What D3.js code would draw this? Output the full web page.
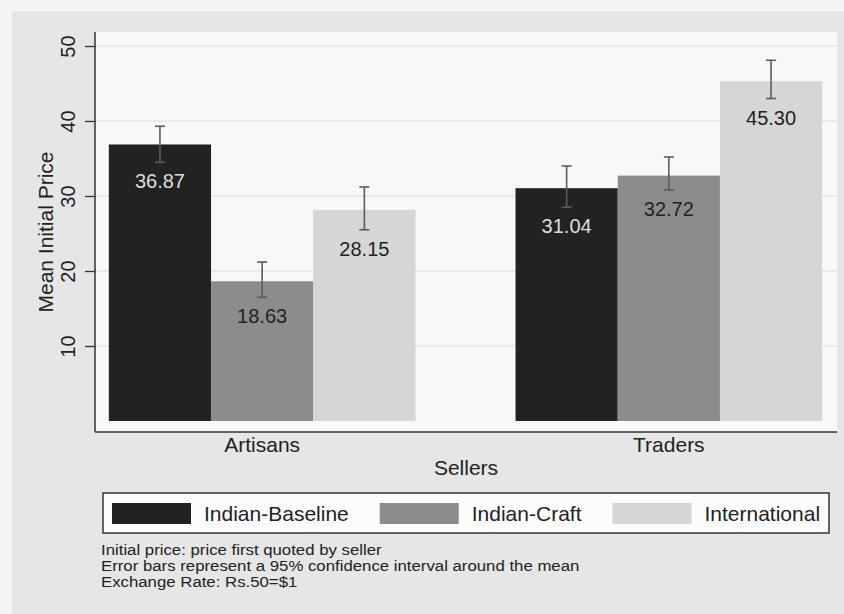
<!DOCTYPE html>
<html>
<head>
<meta charset="utf-8">
<script src="https://cdn.jsdelivr.net/npm/d3@7"></script>
<style>
  body { margin: 0; background: #f5f5f5; }
  svg { display: block; }
  text { font-family: "Liberation Sans", Arial, sans-serif; }
</style>
</head>
<body>
<svg id="chart" width="844" height="614"></svg>
<script>
// Seller groups and price series
const categories = ["Artisans", "Traders"];
const seriesNames = ["Indian-Baseline", "Indian-Craft", "International"];
const seriesColors = ["#222222", "#8c8c8c", "#d6d6d6"];

// Mean initial price per seller group, one array per series
const baselineMeans = [36.87, 31.04];
const craftMeans = [18.63, 32.72];
const internationalMeans = [28.15, 45.30];

// 95% confidence interval bounds [low, high] per seller group
const baselineCI = [[34.5, 39.3], [28.5, 34.0]];
const craftCI = [[16.5, 21.2], [30.8, 35.2]];
const internationalCI = [[25.5, 31.2], [43.0, 48.1]];

const yTicks = [10, 20, 30, 40, 50];
const yTitle = "Mean Initial Price";
const xTitle = "Sellers";
const notes = [
  "Initial price: price first quoted by seller",
  "Error bars represent a 95% confidence interval around the mean",
  "Exchange Rate: Rs.50=$1"
];

const seriesMeans = [baselineMeans, craftMeans, internationalMeans];
const seriesCI = [baselineCI, craftCI, internationalCI];

const rows = [];
categories.forEach((cat, i) => {
  seriesNames.forEach((s, j) => {
    rows.push({ cat, series: s, j, value: seriesMeans[j][i], lo: seriesCI[j][i][0], hi: seriesCI[j][i][1] });
  });
});

const svg = d3.select("#chart");
const plot = { left: 95, right: 837, top: 32, bottom: 432 };

// graph region and plot region backgrounds
svg.append("rect").attr("x", 12).attr("y", 11).attr("width", 832).attr("height", 603).attr("fill", "#e6e6e6");
svg.append("rect").attr("x", plot.left).attr("y", plot.top)
  .attr("width", plot.right - plot.left).attr("height", plot.bottom - plot.top).attr("fill", "#f8f8f8");

const x0 = d3.scaleBand().domain(categories).range([plot.left, 836]).paddingInner(0.246).paddingOuter(0.034);
const x1 = d3.scaleBand().domain(seriesNames).range([0, x0.bandwidth()]);
const y = d3.scaleLinear().domain([0, 50]).range([421, 46]);
const color = d3.scaleOrdinal().domain(seriesNames).range(seriesColors);

// horizontal grid lines
svg.append("g").selectAll("line").data(yTicks).join("line")
  .attr("x1", plot.left).attr("x2", plot.right)
  .attr("y1", d => y(d)).attr("y2", d => y(d))
  .attr("stroke", "#dadada").attr("stroke-width", 1);

// y axis with rotated tick labels
const yAxis = svg.append("g").attr("transform", `translate(${plot.left},0)`)
  .call(d3.axisLeft(y).tickValues(yTicks).tickSize(10).tickFormat(d3.format("d")));
yAxis.select(".domain").remove();
yAxis.selectAll(".tick line").attr("stroke", "#333").attr("stroke-width", 1.3);
yAxis.selectAll(".tick text")
  .attr("x", null).attr("dy", null)
  .attr("transform", "translate(-20,0) rotate(-90)")
  .attr("text-anchor", "middle")
  .attr("fill", "#222")
  .style("font-size", "20px");
svg.append("line").attr("x1", plot.left).attr("x2", plot.left)
  .attr("y1", plot.top).attr("y2", plot.bottom)
  .attr("stroke", "#333").attr("stroke-width", 1.5);

// x axis line
svg.append("line").attr("x1", plot.left).attr("x2", plot.right)
  .attr("y1", plot.bottom).attr("y2", plot.bottom)
  .attr("stroke", "#333").attr("stroke-width", 1.5);

// bars
svg.append("g").selectAll("rect").data(rows).join("rect")
  .attr("x", d => x0(d.cat) + x1(d.series))
  .attr("width", x1.bandwidth())
  .attr("y", d => y(d.value))
  .attr("height", d => y(0) - y(d.value))
  .attr("fill", d => color(d.series));

// error bars
const eb = svg.append("g").attr("stroke", "#5c5c5c").attr("stroke-width", 1.6);
rows.forEach(d => {
  const cx = x0(d.cat) + x1(d.series) + x1.bandwidth() / 2;
  eb.append("line").attr("x1", cx).attr("x2", cx).attr("y1", y(d.hi)).attr("y2", y(d.lo));
  eb.append("line").attr("x1", cx - 5).attr("x2", cx + 5).attr("y1", y(d.hi)).attr("y2", y(d.hi));
  eb.append("line").attr("x1", cx - 5).attr("x2", cx + 5).attr("y1", y(d.lo)).attr("y2", y(d.lo));
});

// value labels
svg.append("g").selectAll("text").data(rows).join("text")
  .attr("x", d => x0(d.cat) + x1(d.series) + x1.bandwidth() / 2)
  .attr("y", d => y(d.lo) + 26)
  .attr("text-anchor", "middle")
  .attr("fill", d => d.j === 0 ? "#dedede" : "#222")
  .style("font-size", "20px")
  .text(d => d3.format(".2f")(d.value));

// category labels
svg.append("g").selectAll("text").data(categories).join("text")
  .attr("x", d => x0(d) + x0.bandwidth() / 2)
  .attr("y", 452)
  .attr("text-anchor", "middle")
  .attr("fill", "#222")
  .style("font-size", "21px")
  .text(d => d);

// axis titles
svg.append("text").attr("x", (plot.left + plot.right) / 2).attr("y", 475)
  .attr("text-anchor", "middle").attr("fill", "#222").style("font-size", "21px").text(xTitle);
svg.append("text").attr("transform", `translate(53,${(plot.top + plot.bottom) / 2}) rotate(-90)`)
  .attr("text-anchor", "middle").attr("fill", "#222").style("font-size", "21px").text(yTitle);

// legend
const legend = svg.append("g");
legend.append("rect").attr("x", 103).attr("y", 493).attr("width", 726).attr("height", 40)
  .attr("fill", "#fcfcfc").attr("stroke", "#333").attr("stroke-width", 1.5);
let lx = 112;
seriesNames.forEach(s => {
  legend.append("rect").attr("x", lx).attr("y", 503).attr("width", 79).attr("height", 21).attr("fill", color(s));
  const t = legend.append("text").attr("x", lx + 92).attr("y", 520.5)
    .attr("fill", "#222").style("font-size", "21px").text(s);
  lx = lx + 92 + t.node().getComputedTextLength() + 31;
});

// notes: tightly stacked lines, glyphs widened slightly
svg.append("g").selectAll("text").data(notes).join("text")
  .attr("transform", (d, i) => `translate(101,${555 + i * 16}) scale(1.15,1)`)
  .attr("fill", "#222").style("font-size", "14.6px")
  .text(d => d);
</script>
</body>
</html>
